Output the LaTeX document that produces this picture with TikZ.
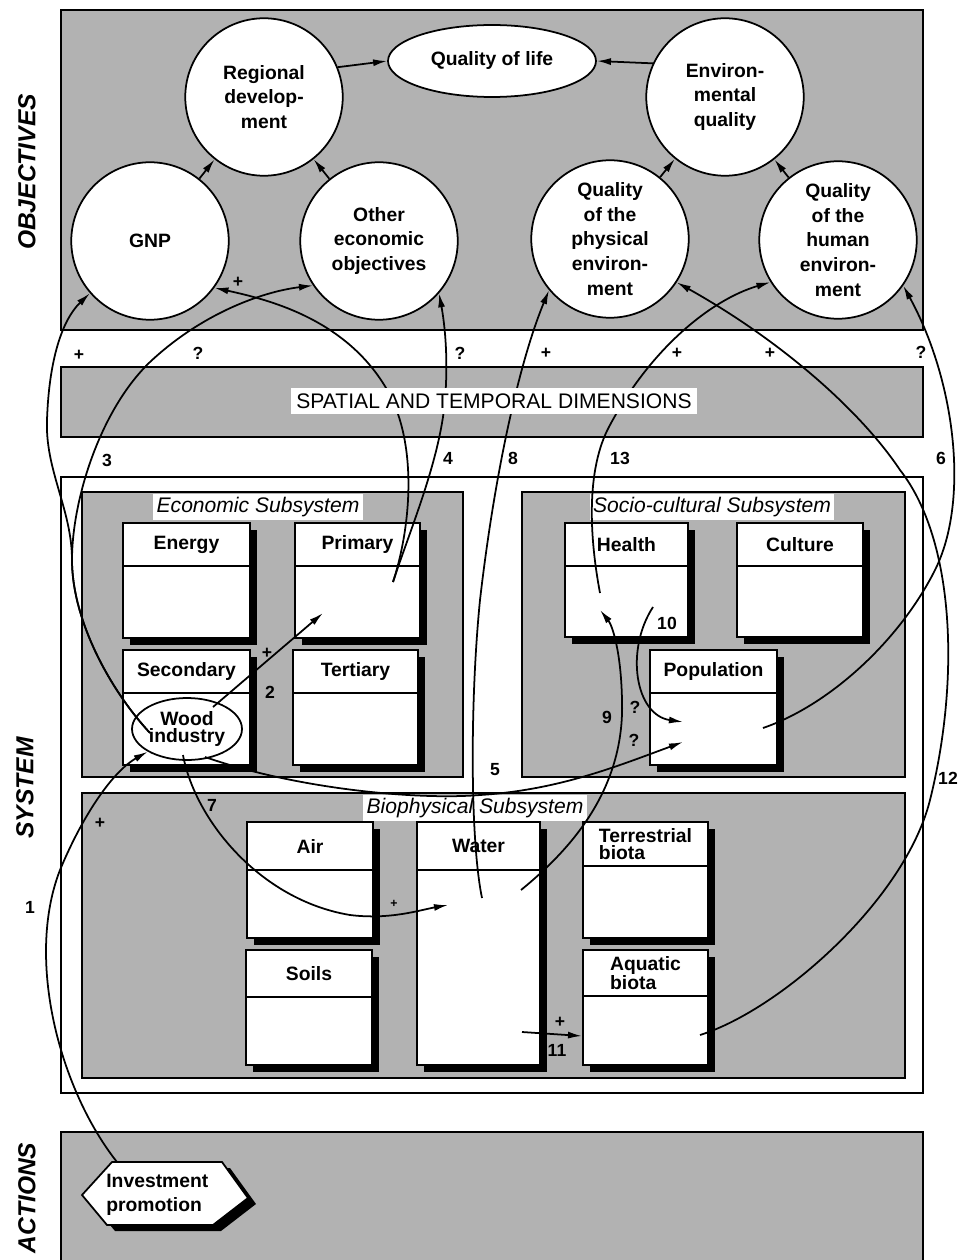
\documentclass[tikz,border=0pt]{standalone}
\usepackage{fontspec}
\setmainfont{Liberation Sans}
\usetikzlibrary{shapes.geometric,arrows.meta,fit}

\tikzset{
  panel/.style={draw, line width=1pt, fill=black!30},
  subsys/.style={draw, line width=0.8pt, fill=black!30},
  goal/.style={circle, draw, line width=1pt, fill=white, minimum size=3.15cm, inner sep=0pt, align=center, font=\bfseries\fontsize{11}{14}\selectfont},
  unit/.style={draw, line width=1pt, fill=white, inner sep=0pt},
  unittitle/.style={align=left, font=\bfseries\fontsize{11}{10}\selectfont},
  subtitle/.style={fill=white, inner sep=2pt, font=\itshape\fontsize{12}{12}\selectfont},
  level/.style={rotate=90, font=\bfseries\itshape\fontsize{14}{14}\selectfont},
  sign/.style={font=\bfseries\fontsize{10}{10}\selectfont},
  arr/.style={line width=1pt, -{Latex[length=8pt,width=4pt]}},
}

% box with black shadow and a title row
\newcommand{\unitbox}[7]{%
  \fill (#2+7,#3+7) rectangle (#4+7,#5+7);
  \node[unit, fit={(#2,#3) (#4,#5)}] (#1) {};
  \draw[line width=1pt] (#2,#6) -- (#4,#6);
  \node[unittitle] (#1-t) at ({(#2+#4)/2},{(#3+#6)/2}) {#7};
}

\begin{document}
\begin{tikzpicture}[x=0.02cm,y=-0.02cm]
\useasboundingbox (0,0) rectangle (958,1260);

% panels
\draw[panel] (61,10) rectangle (923,330);
\draw[panel] (61,367) rectangle (923,437);
\draw[line width=0.8pt, fill=white] (61,477) rectangle (923,1093);
\draw[panel] (61,1132) rectangle (923,1275);

\node[level] (objlab) at (27,172) {OBJECTIVES};
\node[level] (syslab) at (25,788) {SYSTEM};
\node[level] (actlab) at (27,1198) {ACTIONS};

% subsystems
\draw[subsys] (82,492) rectangle (463,777);
\draw[subsys] (522,492) rectangle (905,777);
\draw[subsys] (82,793) rectangle (905,1078);
\node[subtitle] (econlab) at (258,507) {Economic Subsystem};
\node[subtitle] (soclab) at (712,507) {Socio-cultural Subsystem};
\node[subtitle] (biolab) at (475,808) {Biophysical Subsystem};

\unitbox{energy}{123}{523}{250}{638}{566}{Energy}
\unitbox{primary}{295}{523}{420}{638}{566}{Primary}
\unitbox{secondary}{123}{650}{250}{765}{693}{Secondary}
\unitbox{tertiary}{293}{650}{418}{765}{693}{Tertiary}
\unitbox{health}{565}{523}{688}{637}{566}{Health}
\unitbox{culture}{737}{523}{863}{637}{566}{Culture}
\unitbox{population}{650}{650}{777}{765}{693}{Population}
\unitbox{air}{247}{822}{373}{938}{870}{Air}
\unitbox{soils}{246}{950}{372}{1065}{997}{Soils}
\unitbox{water}{417}{822}{540}{1065}{870}{Water}
\unitbox{terrestrial}{583}{822}{708}{938}{866}{Terrestrial\\biota}
\unitbox{aquatic}{583}{950}{708}{1065}{996}{Aquatic\\biota}

\node[ellipse, draw, line width=1pt, minimum width=2.2cm, minimum height=1.24cm, inner sep=0pt, align=center, font=\bfseries\fontsize{11}{10}\selectfont] (wood) at (187,729) {Wood\\industry};

% action
\fill (90,1201) -- (120,1168) -- (230,1168) -- (256,1204) -- (221,1231) -- (115,1231) -- cycle;
\draw[line width=1pt, fill=white] (82,1195) -- (112,1162) -- (222,1162) -- (248,1198) -- (213,1225) -- (107,1225) -- cycle;
\node[anchor=west, inner sep=0pt, align=left, font=\bfseries\fontsize{11}{14}\selectfont] (invest) at (106,1195) {Investment\\promotion};

% objectives
\node[goal] (rd) at (264,97) {Regional\\develop-\\ment};
\node[goal] (gnp) at (150,241) {GNP};
\node[goal] (other) at (379,241) {Other\\economic\\objectives};
\node[ellipse, draw, line width=1pt, fill=white, minimum width=4.16cm, minimum height=1.44cm, inner sep=0pt, font=\bfseries\fontsize{11}{14}\selectfont] (qol) at (492,61) {Quality of life};
\node[goal] (eq) at (725,97) {Environ-\\mental\\quality};
\node[goal] (qpe) at (610,239) {Quality\\of the\\physical\\environ-\\ment};
\node[goal] (qhe) at (838,240) {Quality\\of the\\human\\environ-\\ment};

\draw[arr] (rd.22) -- (qol.west);
\draw[arr] (eq.155) -- (qol.east);
\draw[arr] (gnp) -- (rd);
\draw[arr] (other) -- (rd);
\draw[arr] (qpe) -- (eq);
\draw[arr] (qhe) -- (eq);

% end points inside the boxes
\coordinate (inv1) at (117,1162);
\coordinate (w3) at (150,733);
\coordinate (w2) at (213,707);
\coordinate (w5) at (205,757);
\coordinate (w7) at (183,755);
\coordinate (p2) at (323,613);
\coordinate (p4) at (393,582);
\coordinate (h13) at (600,593);
\coordinate (h10) at (653,607);
\coordinate (h9) at (600,610);
\coordinate (pop5) at (683,742);
\coordinate (pop10) at (683,722);
\coordinate (pop6) at (763,728);
\coordinate (wa7) at (448,905);
\coordinate (wa8) at (482,898);
\coordinate (wa9) at (521,890);
\coordinate (wa11) at (522,1032);
\coordinate (aq11) at (582,1036);
\coordinate (aq12) at (700,1035);

% impacts
\draw[arr] (inv1) .. controls (60,1090) and (25,960) .. (60,870) .. controls (85,810) and (115,770) .. (wood.210);
\draw[arr] (w2) -- (p2);
\draw[arr] (w3) .. controls (110,690) and (72,620) .. (72,560) .. controls (72,510) and (45,470) .. (47,420) .. controls (49,360) and (62,320) .. (gnp.221);
\draw[arr] (w3) .. controls (110,690) and (72,620) .. (72,560) .. controls (72,500) and (100,410) .. (150,362) .. controls (200,315) and (260,292) .. (other.214);
\draw[arr] (p4) .. controls (410,530) and (440,460) .. (445,400) .. controls (449,350) and (443,315) .. (other.319);
\draw[arr] (p4) .. controls (410,530) and (418,450) .. (390,395) .. controls (350,320) and (270,300) .. (gnp.324);
\draw[arr] (w5) .. controls (300,790) and (420,800) .. (480,795) .. controls (560,790) and (620,765) .. (pop5);
\draw[arr] (pop6) .. controls (830,705) and (900,640) .. (935,570) .. controls (970,500) and (955,380) .. (qhe.325);
\draw[arr] (w7) .. controls (195,820) and (260,900) .. (350,915) .. controls (390,920) and (420,910) .. (wa7);
\draw[arr] (wa8) .. controls (470,840) and (470,700) .. (480,600) .. controls (495,470) and (520,360) .. (qpe.220);
\draw[arr] (wa9) .. controls (570,850) and (625,790) .. (622,700) .. controls (621,650) and (612,625) .. (h9);
\draw[arr] (h10) .. controls (625,650) and (635,715) .. (pop10);
\draw[arr] (wa11) -- (aq11);
\draw[arr] (aq12) .. controls (780,1010) and (905,900) .. (930,800) .. controls (960,680) and (955,540) .. (900,470) .. controls (860,410) and (780,340) .. (qpe.327);
\draw[arr] (h13) .. controls (590,540) and (585,470) .. (610,425) .. controls (650,350) and (710,300) .. (qhe.212);

\node[fill=white, inner sep=3pt, font=\fontsize{12}{12}\selectfont] (dims) at (494,401) {SPATIAL AND TEMPORAL DIMENSIONS};

% signs and numbers
\node[sign] (s1) at (100,823) {+};
\node[sign] (n1) at (30,907) {1};
\node[sign] (s2) at (267,653) {+};
\node[sign] (n2) at (270,692) {2};
\node[sign] (s3a) at (79,355) {+};
\node[sign] (s3b) at (198,353) {?};
\node[sign] (n3) at (107,460) {3};
\node[sign] (s4a) at (460,353) {?};
\node[sign] (s4b) at (238,282) {+};
\node[sign] (n4) at (448,458) {4};
\node[sign] (s5) at (634,740) {?};
\node[sign] (n5) at (495,770) {5};
\node[sign] (s6) at (921,352) {?};
\node[sign] (n6) at (941,458) {6};
\node[font=\bfseries\fontsize{7}{7}\selectfont] (s7) at (394,904) {+};
\node[sign] (n7) at (212,805) {7};
\node[sign] (s8) at (546,353) {+};
\node[sign] (n8) at (513,458) {8};
\node[sign] (n9) at (607,717) {9};
\node[sign] (s10) at (635,707) {?};
\node[sign] (n10) at (667,623) {10};
\node[sign] (s11) at (560,1022) {+};
\node[sign] (n11) at (557,1050) {11};
\node[sign] (s12) at (770,353) {+};
\node[sign] (n12) at (948,778) {12};
\node[sign] (s13) at (677,353) {+};
\node[sign] (n13) at (620,458) {13};
\end{tikzpicture}
\end{document}
